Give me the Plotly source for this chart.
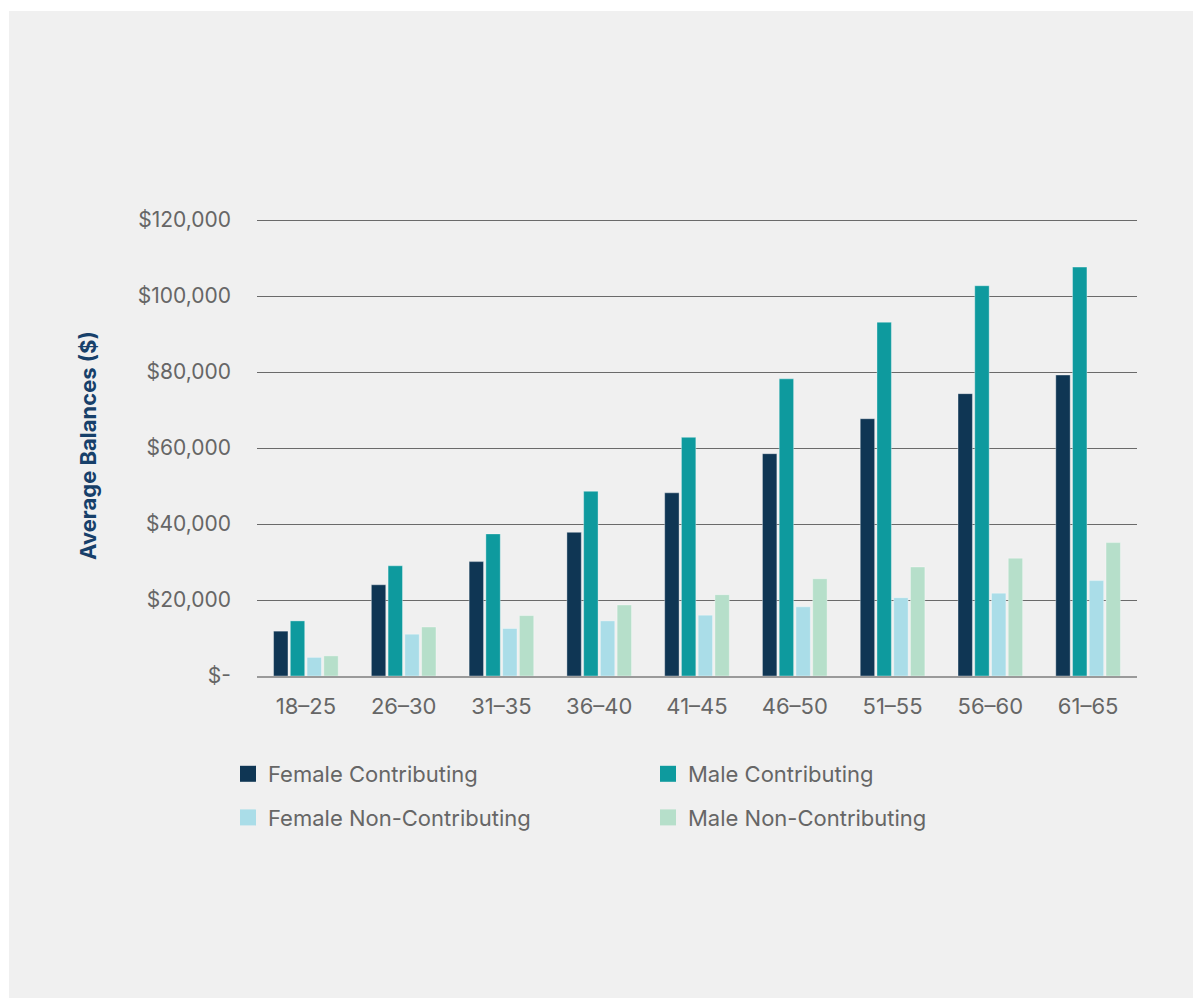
import plotly.graph_objects as go

age_groups = ["18–25", "26–30", "31–35", "36–40", "41–45", "46–50", "51–55", "56–60", "61–65"]
female_contributing = [11800, 24000, 30100, 37800, 48200, 58500, 67700, 74300, 79200]
male_contributing = [14500, 29000, 37400, 48600, 62800, 78200, 93100, 102700, 107600]
female_non_contributing = [4900, 11000, 12500, 14500, 16000, 18200, 20600, 21800, 25100]
male_non_contributing = [5300, 12900, 15900, 18700, 21400, 25600, 28700, 31000, 35100]

y_tick_values = [0, 20000, 40000, 60000, 80000, 100000, 120000]
y_tick_labels = ["$-", "$20,000", "$40,000", "$60,000", "$80,000", "$100,000", "$120,000"]

series = [
    ("Female Contributing", female_contributing, "#0f3654", "legend"),
    ("Male Contributing", male_contributing, "#0e9a9e", "legend2"),
    ("Female Non-Contributing", female_non_contributing, "#aadde8", "legend"),
    ("Male Non-Contributing", male_non_contributing, "#b6dfca", "legend2"),
]

W, H = 1193, 998
ML, MR, MT, MB = 257, 56, 214, 322
PW, PH = W - ML - MR, H - MT - MB
Y_MAX = 120000 * PH / 456.0

def px_x(p):
    return (p - ML) / PW

def px_y(p):
    return (H - MB - p) / PH

FONT = "Inter, 'Noto Sans', sans-serif"
TEXT = "#666666"

fig = go.Figure()
for name, vals, color, lg in series:
    fig.add_trace(go.Bar(
        x=age_groups, y=vals, name=name, showlegend=False,
        marker=dict(color=color, line=dict(color="rgba(255,255,255,0.35)", width=1)),
    ))
# legend entries (square swatches)
for name, vals, color, lg in series:
    fig.add_trace(go.Scatter(
        x=[None], y=[None], mode="markers", name=name, legend=lg, legendgroup=name,
        marker=dict(symbol="square", size=20, color=color), hoverinfo="skip",
    ))

legend_common = dict(xanchor="left", yanchor="top", orientation="v",
                     bgcolor="rgba(0,0,0,0)", tracegroupgap=12, itemsizing="trace",
                     font=dict(family=FONT, size=22, color=TEXT))

fig.update_layout(
    width=W, height=H, autosize=False,
    margin=dict(l=ML, r=MR, t=MT, b=MB, pad=0),
    paper_bgcolor="white",
    plot_bgcolor="#f0f0f0",
    barmode="group", bargap=0.315, bargroupgap=0.14,
    font=dict(family=FONT, color=TEXT, size=21),
    showlegend=True,
    legend=dict(x=px_x(228), y=px_y(753), **legend_common),
    legend2=dict(x=px_x(648), y=px_y(753), **legend_common),
    shapes=[dict(type="rect", xref="paper", yref="paper",
                 x0=px_x(9), x1=px_x(W + 20), y0=px_y(H + 20), y1=px_y(11),
                 fillcolor="#f0f0f0", line=dict(width=0), layer="below")],
    annotations=[dict(text="<b>Average Balances ($)</b>", xref="paper", yref="paper",
                      x=px_x(88), y=px_y(446), textangle=-90, showarrow=False,
                      xanchor="center", yanchor="middle",
                      font=dict(family=FONT, size=22, color="#17406a"))],
)

fig.update_yaxes(range=[0, Y_MAX], tickvals=y_tick_values, ticktext=y_tick_labels,
                 showgrid=True, gridcolor="#6a6a6a", gridwidth=1, zeroline=False,
                 ticks="", ticklabelstandoff=25,
                 tickfont=dict(family=FONT, size=21, color=TEXT))
fig.update_xaxes(showline=True, linecolor="#9a9a9a", linewidth=2, ticks="",
                 ticklabelstandoff=10,
                 tickfont=dict(family=FONT, size=22, color=TEXT))

fig.write_html("out.html")
